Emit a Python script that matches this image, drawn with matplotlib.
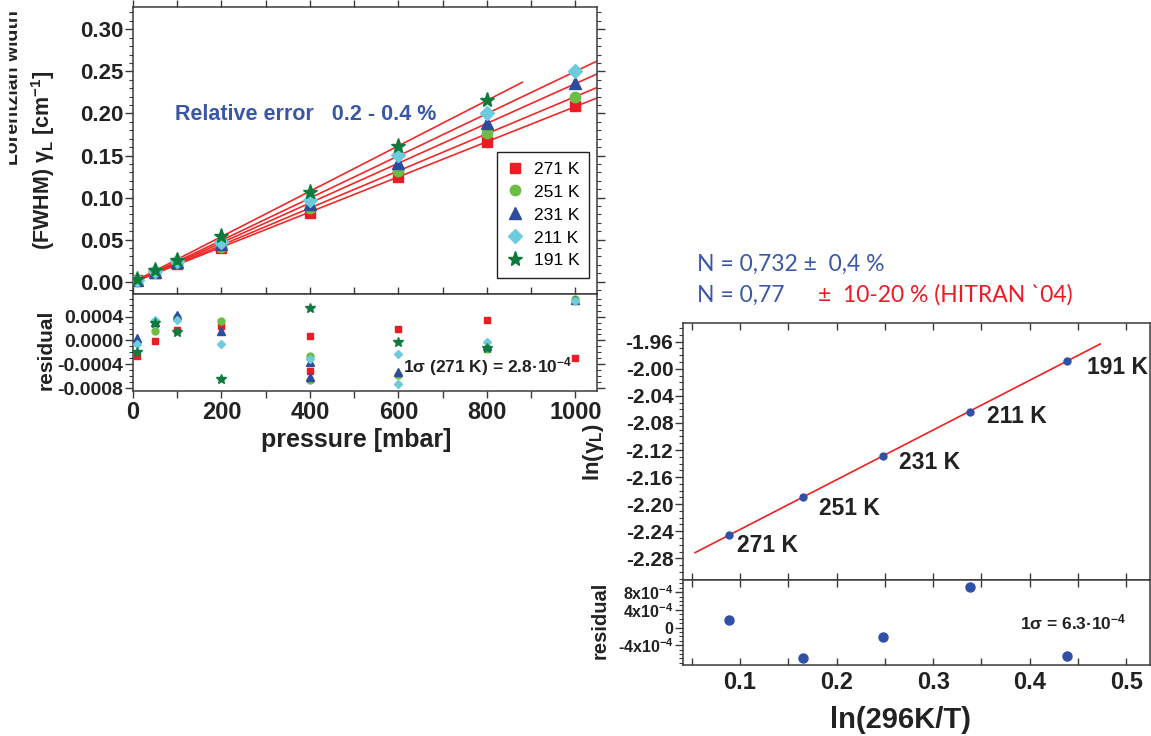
import numpy as np
import matplotlib
matplotlib.use("Agg")
import matplotlib.pyplot as plt
from matplotlib import font_manager as fm
from matplotlib.ticker import FixedLocator, FixedFormatter, MultipleLocator, FormatStrFormatter
from matplotlib.patches import Rectangle

# ---------------- data ----------------
pressure = [10, 50, 100, 200, 400, 600, 800, 1000]
temps_left = ["271 K", "251 K", "231 K", "211 K", "191 K"]
w271 = [0.0021, 0.0104, 0.0205, 0.0398, 0.0822, 0.1243, 0.1665, 0.2087]
w251 = [0.0022, 0.0110, 0.0218, 0.0418, 0.0872, 0.1310, 0.1770, 0.2200]
w231 = [0.0023, 0.0117, 0.0234, 0.0445, 0.0924, 0.1406, 0.1885, 0.2360]
w211 = [0.0025, 0.0124, 0.0248, 0.0470, 0.0972, 0.1505, 0.2005, 0.2500]
w191 = [0.0027, 0.0134, 0.0262, 0.0542, 0.1063, 0.1614, 0.2160]
p191 = [10, 50, 100, 200, 400, 600, 800]
fit_end = [1050, 1050, 1050, 1050, 880]

res_p271 = [10, 50, 100, 200, 400, 400, 600, 800, 1000]
res_271 = [-2.7e-4, -0.1e-4, 1.8e-4, 2.4e-4, 0.8e-4, -5.2e-4, 1.9e-4, 3.4e-4, -3.0e-4]
res_p251 = [10, 50, 100, 200, 400, 400, 600, 800, 1000]
res_251 = [-0.5e-4, 1.5e-4, 4.0e-4, 3.3e-4, -2.7e-4, -6.6e-4, -5.8e-4, -1.5e-4, 7.0e-4]
res_p231 = [10, 50, 100, 200, 400, 400, 600, 800, 1000]
res_231 = [0.4e-4, 3.1e-4, 4.2e-4, 1.6e-4, -3.7e-4, -6.2e-4, -5.3e-4, -0.9e-4, 6.8e-4]
res_p211 = [10, 50, 100, 200, 400, 600, 600, 800, 1000]
res_211 = [-0.6e-4, 3.4e-4, 3.5e-4, -0.6e-4, -3.1e-4, -2.3e-4, -7.3e-4, -0.3e-4, 6.6e-4]
res_p191 = [10, 50, 100, 200, 400, 600, 800]
res_191 = [-1.9e-4, 2.9e-4, 1.4e-4, -6.5e-4, 5.4e-4, -0.3e-4, -1.2e-4]

left_yticks = [0.00, 0.05, 0.10, 0.15, 0.20, 0.25, 0.30]
left_rticks = [-0.0008, -0.0004, 0.0000, 0.0004]
left_xticks = [0, 200, 400, 600, 800, 1000]

temps_right = [271, 251, 231, 211, 191]
ln_gamma = [-2.2455, -2.1899, -2.1288, -2.0634, -1.9880]
res_right = [1.6e-4, -7.0e-4, -2.2e-4, 9.2e-4, -6.45e-4]
fit_range_right = [0.0535, 0.473]
right_yticks = [-2.28, -2.24, -2.20, -2.16, -2.12, -2.08, -2.04, -2.00, -1.96]
right_rticks = [-4e-4, 0, 4e-4, 8e-4]
right_rtick_labels = [r"-4x10$^{-4}$", "0", r"4x10$^{-4}$", r"8x10$^{-4}$"]
right_xticks = [0.1, 0.2, 0.3, 0.4, 0.5]

# ---------------- fonts ----------------
def pick(names):
    for n in names:
        try:
            fm.findfont(fm.FontProperties(family=n), fallback_to_default=False)
            return n
        except Exception:
            pass
    return "DejaVu Sans"

ARIAL = pick(["Liberation Sans", "DejaVu Sans"])
CAL = pick(["Lato", "Open Sans", "DejaVu Sans"])

plt.rcParams["font.family"] = [ARIAL, "DejaVu Sans"]
plt.rcParams["font.weight"] = "bold"
plt.rcParams["mathtext.default"] = "regular"
plt.rcParams["axes.linewidth"] = 1.1

W, H = 1151, 736
fig = plt.figure(figsize=(W / 100, H / 100), dpi=100)

def rect(x0, y0, x1, y1):
    return [x0 / W, 1 - y1 / H, (x1 - x0) / W, (y1 - y0) / H]

def fx(x):
    return x / W

def fy(y):
    return 1 - y / H

SP = "#3a3a3a"
TXT = "#222222"
RED = "#ec1c24"
BLUE = "#3a57a7"
cols = ["#ec1c24", "#6cbd45", "#2e4c9e", "#6dcbdd", "#0c7b3c"]
marks = ["s", "o", "^", "D", "*"]
msz = [7, 7.5, 8, 7, 11]
rmsz = [4.5, 5, 5.5, 4.5, 7]

def style(ax):
    for s in ax.spines.values():
        s.set_color(SP)
        s.set_linewidth(1.1)

# ---------------- left top ----------------
ax1 = fig.add_axes(rect(133, 7, 597.5, 294))
style(ax1)
series = [(pressure, w271), (pressure, w251), (pressure, w231), (pressure, w211), (p191, w191)]
for i, (px, py) in enumerate(series):
    k, b = np.polyfit(px, py, 1)
    xx = np.array([0, fit_end[i]])
    ax1.plot(xx, k * xx + b, color="#f02828", lw=1.2, zorder=2)
for i, (px, py) in enumerate(series):
    ax1.plot(px, py, ls="none", marker=marks[i], ms=msz[i], color=cols[i],
             mec=cols[i], label=temps_left[i], zorder=3)
ax1.set_xlim(0, 1050)
ax1.set_ylim(-0.0146, 0.3265)
ax1.yaxis.set_major_locator(FixedLocator(left_yticks))
ax1.yaxis.set_major_formatter(FormatStrFormatter("%.2f"))
ax1.yaxis.set_minor_locator(MultipleLocator(0.01))
ax1.xaxis.set_major_locator(MultipleLocator(100))
ax1.tick_params(axis="both", which="both", direction="out", colors=SP, labelcolor=TXT)
ax1.tick_params(axis="y", which="major", length=6, width=1, labelsize=16, pad=1, right=True)
ax1.tick_params(axis="y", which="minor", length=3, width=0.8, right=True)
ax1.tick_params(axis="x", which="major", length=5, width=1, top=True, labelbottom=False)
leg = ax1.legend(loc="lower right", bbox_to_anchor=(0.982, 0.0557), frameon=True,
                 fancybox=False, edgecolor=TXT, framealpha=1,
                 prop=fm.FontProperties(family=ARIAL, size=12.5, weight="normal"),
                 handletextpad=0.6, labelspacing=0.45, borderpad=0.55,
                 handlelength=1.0, borderaxespad=0, markerscale=1.0)
leg.get_frame().set_linewidth(1.0)
fig.text(fx(175), fy(115), "Relative error   0.2 - 0.4 %",
         color=BLUE, fontsize=15.5, fontweight="bold", ha="left", va="center")

# ---------------- left residual ----------------
ax2 = fig.add_axes(rect(133, 294, 597.5, 391))
style(ax2)
rser = [(res_p271, res_271), (res_p251, res_251), (res_p231, res_231),
        (res_p211, res_211), (res_p191, res_191)]
for i, (px, py) in enumerate(rser):
    ax2.plot(px, py, ls="none", marker=marks[i], ms=rmsz[i], color=cols[i],
             mec=cols[i], zorder=3, clip_on=False)
ax2.set_xlim(0, 1050)
ax2.set_ylim(-0.00085, 0.00078)
ax2.yaxis.set_major_locator(FixedLocator(left_rticks))
ax2.yaxis.set_major_formatter(FormatStrFormatter("%.4f"))
ax2.yaxis.set_minor_locator(MultipleLocator(0.0001))
ax2.xaxis.set_major_locator(FixedLocator(left_xticks))
ax2.xaxis.set_minor_locator(MultipleLocator(100))
ax2.xaxis.set_major_formatter(FormatStrFormatter("%d"))
ax2.tick_params(axis="both", which="both", direction="out", colors=SP, labelcolor=TXT)
ax2.tick_params(axis="y", which="major", length=6, width=1, labelsize=14, pad=1, right=True)
ax2.tick_params(axis="y", which="minor", length=3, width=0.8, right=True)
ax2.tick_params(axis="x", which="major", length=5, width=1, labelsize=17, pad=2, top=True)
ax2.tick_params(axis="x", which="minor", length=5, width=1, top=True)
fig.text(fx(403), fy(367), r"1σ (271 K) = 2.8·10$^{-4}$", fontsize=12.5, fontweight="bold",
         ha="left", va="center", color=TXT)
fig.text(fx(356), fy(440), "pressure [mbar]", fontsize=18, fontweight="bold",
         ha="center", va="center", color=TXT)
fig.text(fx(46), fy(350), "residual", fontsize=15, fontweight="bold", rotation=90,
         ha="center", va="center", color=TXT)
fig.text(fx(43), fy(160), r"(FWHM) $γ_L$ [cm$^{-1}$]", fontsize=15.5, fontweight="bold",
         rotation=90, ha="center", va="center", color=TXT)
fig.text(fx(14), fy(88), "Lorentzian width", fontsize=14, fontweight="bold",
         rotation=90, ha="center", va="center", color=TXT)
fig.patches.append(Rectangle((0, 0), fx(8), 1, transform=fig.transFigure,
                             color="white", zorder=10))

# ---------------- right top ----------------
ax3 = fig.add_axes(rect(683, 322.7, 1149.5, 580))
style(ax3)
xr = np.log(296.0 / np.array(temps_right))
k, b = np.polyfit(xr, ln_gamma, 1)
xx = np.array(fit_range_right)
ax3.plot(xx, k * xx + b, color="#f02020", lw=1.2, zorder=2)
ax3.plot(xr, ln_gamma, ls="none", marker="o", ms=5, color="#3050a8", zorder=3)
offs = [(8, 11), (16, 11), (16, 7), (17, 5), (20, 7)]
for i, t in enumerate(temps_right):
    ax3.annotate(f"{t} K", (xr[i], ln_gamma[i]), xytext=(offs[i][0], -offs[i][1]),
                 textcoords="offset pixels", ha="left", va="center",
                 fontsize=16.5, fontweight="bold", color=TXT)
ax3.set_xlim(0.041, 0.524)
ax3.set_ylim(-2.312, -1.9319)
ax3.yaxis.set_major_locator(FixedLocator(right_yticks))
ax3.yaxis.set_major_formatter(FormatStrFormatter("%.2f"))
ax3.yaxis.set_minor_locator(MultipleLocator(0.01))
ax3.xaxis.set_major_locator(MultipleLocator(0.05))
ax3.tick_params(axis="y", which="major", direction="out", length=6, width=1,
                labelsize=15, pad=1, colors=SP, labelcolor=TXT)
ax3.tick_params(axis="y", which="minor", direction="out", length=3, width=0.8, colors=SP)
ax3.tick_params(axis="x", which="major", direction="in", length=5, width=1,
                top=True, labelbottom=False, colors=SP)
fig.text(fx(594), fy(452), r"ln($γ_L$)", fontsize=16, fontweight="bold", rotation=90,
         ha="center", va="center", color=TXT)
fig.text(fx(697), fy(264), "N = 0,732 ±  0,4 %", fontsize=16.5, fontweight="normal",
         family=[CAL, "DejaVu Sans"], color=BLUE, ha="left", va="center")
fig.text(fx(697), fy(295), "N = 0,77", fontsize=16.5, fontweight="normal",
         family=[CAL, "DejaVu Sans"], color=BLUE, ha="left", va="center")
fig.text(fx(818), fy(295), "±  10-20 % (HITRAN `04)", fontsize=16.5, fontweight="normal",
         family=[CAL, "DejaVu Sans"], color=RED, ha="left", va="center")

# ---------------- right residual ----------------
ax4 = fig.add_axes(rect(683, 580, 1149.5, 665))
style(ax4)
ax4.plot(xr, res_right, ls="none", marker="o", ms=6.5, color="#3050a8", zorder=3)
ax4.set_xlim(0.041, 0.524)
ax4.set_ylim(-8.48e-4, 10.75e-4)
ax4.yaxis.set_major_locator(FixedLocator(right_rticks))
ax4.yaxis.set_major_formatter(FixedFormatter(right_rtick_labels))
ax4.yaxis.set_minor_locator(MultipleLocator(1e-4))
ax4.xaxis.set_major_locator(FixedLocator(right_xticks))
ax4.xaxis.set_minor_locator(MultipleLocator(0.05))
ax4.xaxis.set_major_formatter(FormatStrFormatter("%.1f"))
ax4.tick_params(axis="y", which="major", direction="out", length=6, width=1,
                labelsize=11.5, pad=1, colors=SP, labelcolor=TXT)
ax4.tick_params(axis="y", which="minor", direction="out", length=3, width=0.8, colors=SP)
ax4.tick_params(axis="x", which="both", direction="in", length=5, width=1,
                top=True, labelsize=17, pad=4, colors=SP, labelcolor=TXT)
fig.text(fx(1020), fy(622), r"1σ = 6.3·10$^{-4}$", fontsize=12.5, fontweight="bold",
         ha="left", va="center", color=TXT)
fig.text(fx(600), fy(620), "residual", fontsize=14.5, fontweight="bold", rotation=90,
         ha="center", va="center", color=TXT)
fig.text(fx(900), fy(720), "ln(296K/T)", fontsize=21, fontweight="bold",
         ha="center", va="center", color=TXT)

fig.savefig("out.png", dpi=100)
